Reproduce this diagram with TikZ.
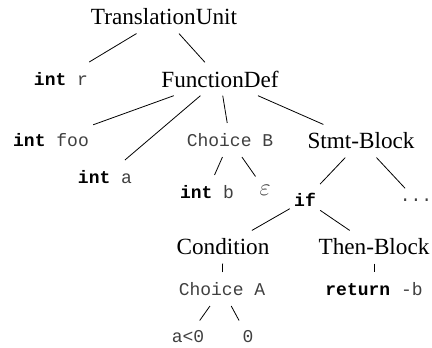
\documentclass[tikz,border=0pt]{standalone}
\usepackage{fontspec}
\setmainfont{Liberation Serif}
\setmonofont{Liberation Mono}

% keywords in the source snippets
\newcommand{\kw}[1]{{\bfseries\color{black}#1}}

\tikzset{
  nt/.style={font=\fontsize{11.6}{13}\selectfont, inner xsep=2pt, inner ysep=4pt},
  tok/.style={font=\ttfamily\fontsize{9}{10}\selectfont, text=black!75, inner xsep=2pt, inner ysep=5pt},
}

\begin{document}
\begin{tikzpicture}[x=0.5pt,y=-0.5pt]
	\useasboundingbox (0,0) rectangle (432,347);

	\node[nt] (tu) at (164,17) {TranslationUnit};
	\node[tok] (intr) at (61,79) {\kw{int} r};
	\node[nt] (fd) at (220,79) {FunctionDef};

	\node[tok] (intfoo) at (51,140) {\kw{int} foo};
	\node[tok] (inta) at (105,177) {\kw{int} a};
	\node[tok] (chb) at (230,140) {Choice B};
	\node[nt] (sb) at (361,141) {Stmt-Block};

	\node[tok] (intb) at (207,192) {\kw{int} b};
	\node[nt, text=black!75] (eps) at (265,190) {$\varepsilon$};
	\node[tok] (iff) at (305,200) {\kw{if}};
	\node[tok] (dots) at (416,200) {...};

	\node[nt] (cond) at (223,247) {Condition};
	\node[nt] (tb) at (374,247) {Then-Block};
	\node[tok] (cha) at (222,289) {Choice A};
	\node[tok] (ret) at (374,289) {\kw{return} -b};
	\node[tok] (alt) at (188,337) {a<0};
	\node[tok] (zero) at (248,337) {0};

	\draw (tu) -- (intr);
	\draw (tu) -- (fd);
	\draw (fd) -- (intfoo);
	\draw (fd) -- (inta);
	\draw (fd) -- (chb);
	\draw (fd) -- (sb);
	\draw (chb) -- (intb);
	\draw (chb) -- (eps);
	\draw (sb) -- (iff);
	\draw (sb) -- (dots);
	\draw (iff) -- (cond);
	\draw (iff) -- (tb);
	\draw (cond) -- (cha);
	\draw (tb) -- (ret);
	\draw (cha) -- (alt);
	\draw (cha) -- (zero);
\end{tikzpicture}
\end{document}
